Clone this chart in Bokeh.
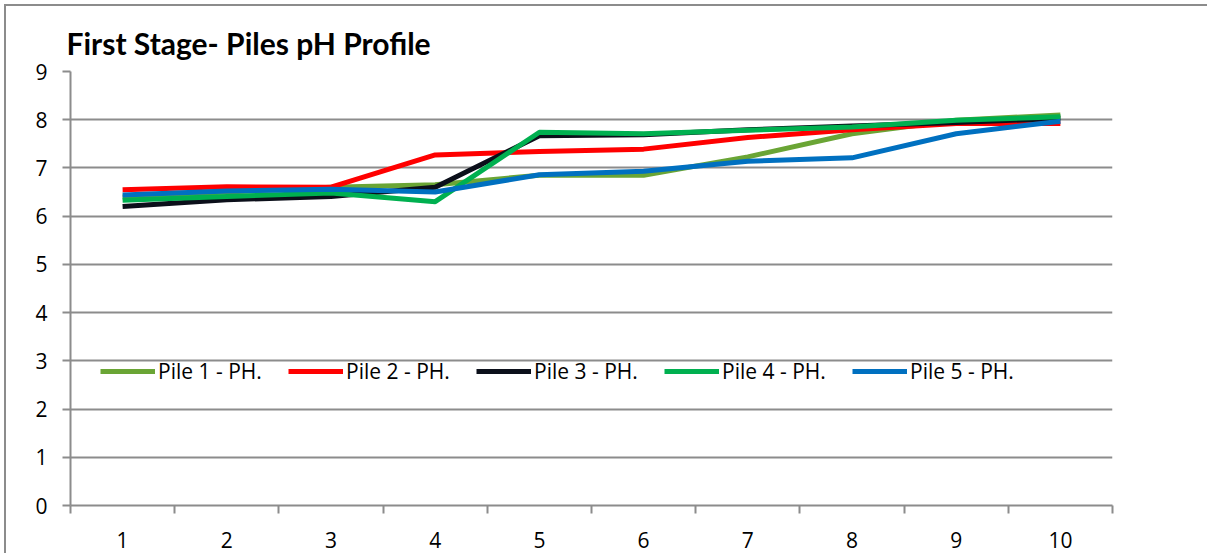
from bokeh.plotting import figure
from bokeh.models import FixedTicker, Range1d, Legend, LegendItem, InlineStyleSheet
from bokeh.embed import file_html
from bokeh.resources import INLINE

x = [1, 2, 3, 4, 5, 6, 7, 8, 9, 10]
pile1 = [6.40, 6.50, 6.60, 6.65, 6.85, 6.85, 7.23, 7.71, 7.99, 8.10]
pile2 = [6.55, 6.61, 6.60, 7.27, 7.34, 7.39, 7.63, 7.79, 7.92, 7.92]
pile3 = [6.20, 6.34, 6.41, 6.60, 7.67, 7.69, 7.79, 7.87, 7.94, 8.03]
pile4 = [6.33, 6.41, 6.48, 6.30, 7.74, 7.71, 7.78, 7.85, 7.99, 8.06]
pile5 = [6.44, 6.52, 6.56, 6.50, 6.86, 6.93, 7.14, 7.21, 7.71, 7.97]
names = ["Pile 1 - PH.", "Pile 2 - PH.", "Pile 3 - PH.", "Pile 4 - PH.", "Pile 5 - PH."]
colors = ["#6AA535", "#FF0000", "#0B0F1A", "#00B050", "#0070C0"]
y_ticks = [0, 1, 2, 3, 4, 5, 6, 7, 8, 9]

FONT = "Open Sans"
TFONT = "Lato"
GRID = "#8C8C8C"

border_css = InlineStyleSheet(css=":host { border-top: 2px solid #8C8C8C; "
                                  "border-left: 2px solid #8C8C8C; "
                                  "border-right: 0px none; border-bottom: 0px none; "
                                  "margin-left: 4px; margin-top: 4px; }")

p = figure(width=1203, height=549, output_backend="svg", toolbar_location=None,
           x_range=Range1d(0.5, 10.5), y_range=Range1d(0, 9),
           min_border_left=64, min_border_top=65, min_border_right=97,
           min_border_bottom=50, title="First Stage- Piles pH Profile",
           stylesheets=[border_css])
p.outline_line_color = None
p.background_fill_color = "white"
p.border_fill_color = "white"

p.title.text_font = TFONT
p.title.text_font_size = "30px"
p.title.text_font_style = "bold"
p.title.text_color = "black"
p.title.align = "left"
p.title.offset = -4
p.title.standoff = 21

# x axis: labels at category centres, ticks between categories
p.xaxis.ticker = FixedTicker(ticks=x, minor_ticks=[v - 0.5 for v in x] + [x[-1] + 0.5])
p.xaxis.major_tick_out = 0
p.xaxis.major_tick_in = 0
p.xaxis.minor_tick_out = 8
p.xaxis.minor_tick_in = 0
p.xaxis.minor_tick_line_color = GRID
p.xaxis.minor_tick_line_width = 2
p.xaxis.axis_line_color = GRID
p.xaxis.axis_line_width = 2
p.xaxis.major_label_standoff = 18
p.xaxis.major_label_text_font = FONT
p.xaxis.major_label_text_font_size = "21px"
p.xaxis.major_label_text_color = "black"

p.yaxis.ticker = FixedTicker(ticks=y_ticks, minor_ticks=[])
p.yaxis.major_tick_out = 8
p.yaxis.major_tick_in = 0
p.yaxis.major_tick_line_color = GRID
p.yaxis.major_tick_line_width = 2
p.yaxis.axis_line_color = GRID
p.yaxis.axis_line_width = 2
p.yaxis.major_label_standoff = 15
p.yaxis.major_label_text_font = FONT
p.yaxis.major_label_text_font_size = "21px"
p.yaxis.major_label_text_color = "black"

p.xgrid.grid_line_color = None
p.ygrid.ticker = FixedTicker(ticks=y_ticks)
p.ygrid.grid_line_color = GRID
p.ygrid.grid_line_width = 2

series = [pile1, pile2, pile3, pile4, pile5]
items = []
for name, ys, c in zip(names, series, colors):
    r = p.line(x, ys, line_color=c, line_width=5, line_join="round")
    items.append(LegendItem(label=name, renderers=[r]))

legend = Legend(items=items, orientation="horizontal", location=(30, 120),
                padding=0, margin=0, spacing=6, glyph_width=55, glyph_height=20,
                label_standoff=3, label_width=124,
                label_text_font=FONT, label_text_font_size="21px",
                label_text_color="black", background_fill_alpha=0,
                border_line_color=None)
p.add_layout(legend, "center")

html = file_html(p, INLINE)
open("out.html", "w").write(html)
